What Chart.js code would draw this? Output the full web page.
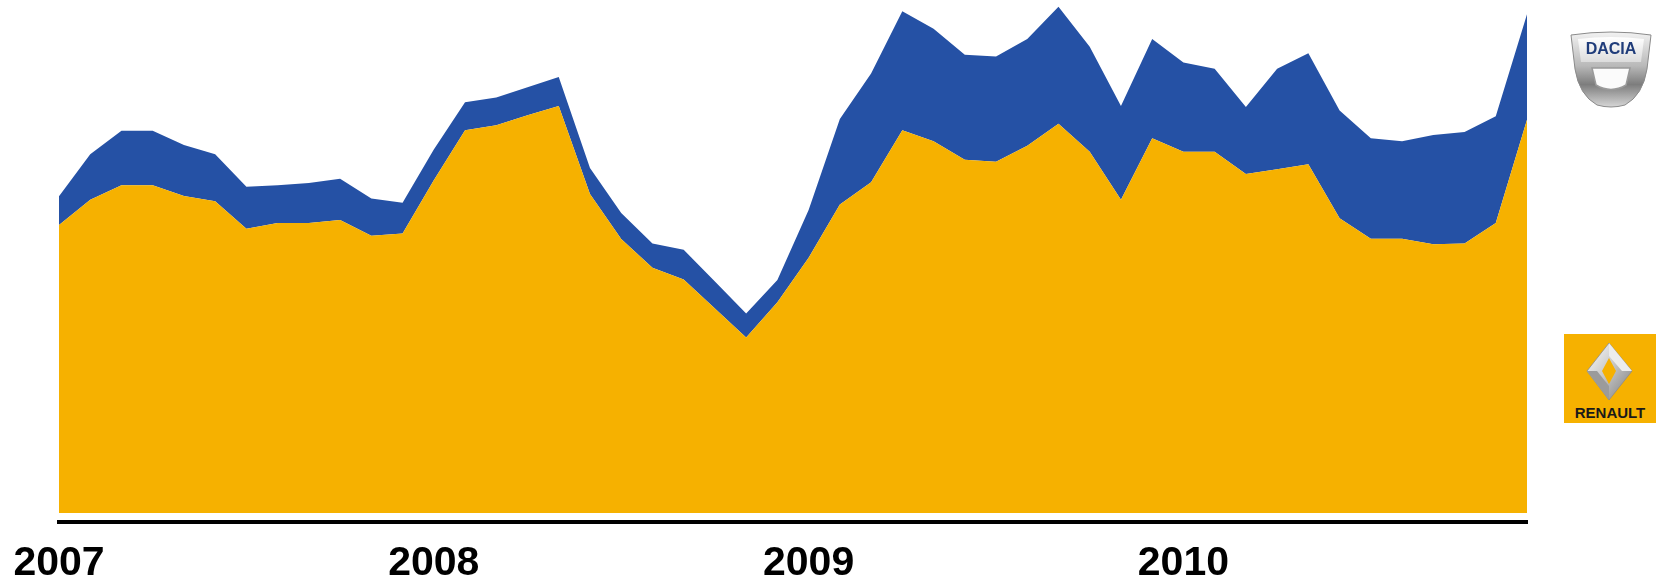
<!DOCTYPE html>
<html>
<head>
<meta charset="utf-8">
<script src="https://cdn.jsdelivr.net/npm/chart.js@4/dist/chart.umd.min.js"></script>
<style>
  html, body { margin: 0; padding: 0; background: #fff; }
  #wrap { position: relative; width: 1659px; height: 583px; overflow: hidden; }
  #chart { position: absolute; left: 0; top: 0; }
  .logo { position: absolute; }
</style>
</head>
<body>
<div id="wrap">
  <canvas id="chart" width="1659" height="583"></canvas>

  <!-- Dacia badge -->
  <svg class="logo" style="left:1569px; top:29px" width="84" height="80" viewBox="0 0 84 80">
    <defs>
      <linearGradient id="dSilver" x1="0" y1="0" x2="0" y2="1">
        <stop offset="0" stop-color="#f2f2f2"/>
        <stop offset="0.45" stop-color="#b9b9b9"/>
        <stop offset="0.7" stop-color="#7d7d7d"/>
        <stop offset="1" stop-color="#d6d6d6"/>
      </linearGradient>
      <linearGradient id="dPanel" x1="0" y1="0" x2="0" y2="1">
        <stop offset="0" stop-color="#ffffff"/>
        <stop offset="1" stop-color="#dcdcdc"/>
      </linearGradient>
    </defs>
    <path d="M2,6 Q42,0 82,6 L78,40 Q74,66 56,76 Q42,80 28,76 Q10,66 6,40 Z" fill="url(#dSilver)" stroke="#8a8a8a" stroke-width="1"/>
    <path d="M9,10 Q42,6 75,10 L72,33 L12,33 Z" fill="url(#dPanel)"/>
    <path d="M23,39 L61,39 L57,56 Q42,65 27,56 Z" fill="#fbfbfb" stroke="#9a9a9a" stroke-width="1.5"/>
    <text x="42" y="25" text-anchor="middle" font-family="Liberation Sans, Arial, sans-serif" font-weight="bold" font-size="16" fill="#1f3c7a">DACIA</text>
  </svg>

  <!-- Renault badge -->
  <svg class="logo" style="left:1564px; top:334px" width="92" height="89" viewBox="0 0 92 89">
    <defs>
      <linearGradient id="rSilver" x1="0" y1="0" x2="1" y2="1">
        <stop offset="0" stop-color="#ffffff"/>
        <stop offset="0.5" stop-color="#c4c4c4"/>
        <stop offset="1" stop-color="#7a7a7a"/>
      </linearGradient>
    </defs>
    <rect x="0" y="0" width="92" height="89" fill="#f6b100"/>
    <polygon points="45,9 68,37 45,66 23,37" fill="url(#rSilver)" stroke="#8c8c8c" stroke-width="0.8"/>
    <polygon points="45,9 68,37 58,37 45,22" fill="#ececec"/>
    <polygon points="23,37 45,66 45,52 33,37" fill="#9b9b9b"/>
    <polygon points="45,24 52,37 45,50 38,37" fill="#f6b100"/>
    <text x="46" y="84" text-anchor="middle" font-family="Liberation Sans, Arial, sans-serif" font-weight="bold" font-size="15" fill="#1a1a1a">RENAULT</text>
  </svg>
</div>

<script>
// monthly volumes, Jan 2007 .. Dec 2010
const months = [
  "2007-01","2007-02","2007-03","2007-04","2007-05","2007-06","2007-07","2007-08","2007-09","2007-10","2007-11","2007-12",
  "2008-01","2008-02","2008-03","2008-04","2008-05","2008-06","2008-07","2008-08","2008-09","2008-10","2008-11","2008-12",
  "2009-01","2009-02","2009-03","2009-04","2009-05","2009-06","2009-07","2009-08","2009-09","2009-10","2009-11","2009-12",
  "2010-01","2010-02","2010-03","2010-04","2010-05","2010-06","2010-07","2010-08","2010-09","2010-10","2010-11","2010-12"
];

const renault = [
  77.5, 84.3, 88.2, 88.2, 85.3, 83.9, 76.5, 78.0, 78.0, 78.8, 74.6, 75.2,
  89.5, 103.0, 104.3, 107.0, 109.5, 85.8, 73.7, 66.0, 62.8, 55.0, 47.2, 56.7,
  68.7, 83.0, 89.0, 103.0, 100.0, 95.0, 94.5, 98.8, 104.7, 97.2, 84.3, 100.8,
  97.2, 97.2, 91.2, 92.5, 93.8, 79.3, 73.8, 73.8, 72.3, 72.5, 78.0, 105.8
];

const dacia = [
  7.7, 12.2, 14.6, 14.6, 13.7, 12.6, 11.3, 10.2, 10.8, 11.1, 10.0, 8.3,
  8.3, 7.5, 7.5, 7.5, 7.8, 7.0, 7.0, 6.5, 8.0, 7.3, 6.5, 6.0,
  12.8, 23.0, 29.2, 32.0, 30.3, 28.3, 28.3, 28.7, 31.5, 28.2, 25.2, 26.7,
  24.0, 22.3, 18.0, 27.0, 29.9, 29.0, 27.0, 26.2, 29.4, 30.0, 28.7, 28.4
];

const RENAULT_YELLOW = "#f6b100";
const DACIA_BLUE = "#2551a5";

new Chart(document.getElementById("chart"), {
  type: "line",
  data: {
    labels: months,
    datasets: [
      {
        label: "Renault",
        data: renault,
        backgroundColor: RENAULT_YELLOW,
        borderWidth: 0,
        pointRadius: 0,
        pointHoverRadius: 0,
        tension: 0,
        fill: "origin"
      },
      {
        label: "Dacia",
        data: dacia,
        backgroundColor: DACIA_BLUE,
        borderWidth: 0,
        pointRadius: 0,
        pointHoverRadius: 0,
        tension: 0,
        fill: "-1"
      }
    ]
  },
  options: {
    responsive: false,
    animation: false,
    events: [],
    layout: { autoPadding: false, padding: { left: 59, right: 132, top: 0, bottom: -22 } },
    plugins: {
      legend: { display: false },
      tooltip: { enabled: false }
    },
    scales: {
      x: {
        offset: false,
        grid: { display: false, drawTicks: false },
        border: { display: true, color: "#000", width: 4 },
        ticks: {
          autoSkip: false,
          maxRotation: 0,
          padding: 21,
          color: "#000",
          font: { family: "'Liberation Sans', Arial, sans-serif", size: 41, weight: "bold", lineHeight: 1 },
          // only January gets its year printed
          callback: function (value) {
            const m = months[value];
            return m.endsWith("-01") ? m.slice(0, 4) : "";
          }
        },
        // the year labels may hang past the plot edge; keep the plot where the layout padding puts it
        afterFit: function (scale) {
          scale.paddingLeft = 0;
          scale.paddingRight = 0;
        }
      },
      y: {
        display: false,
        stacked: true,
        min: -2.4,
        max: 138
      }
    }
  }
});
</script>
</body>
</html>
